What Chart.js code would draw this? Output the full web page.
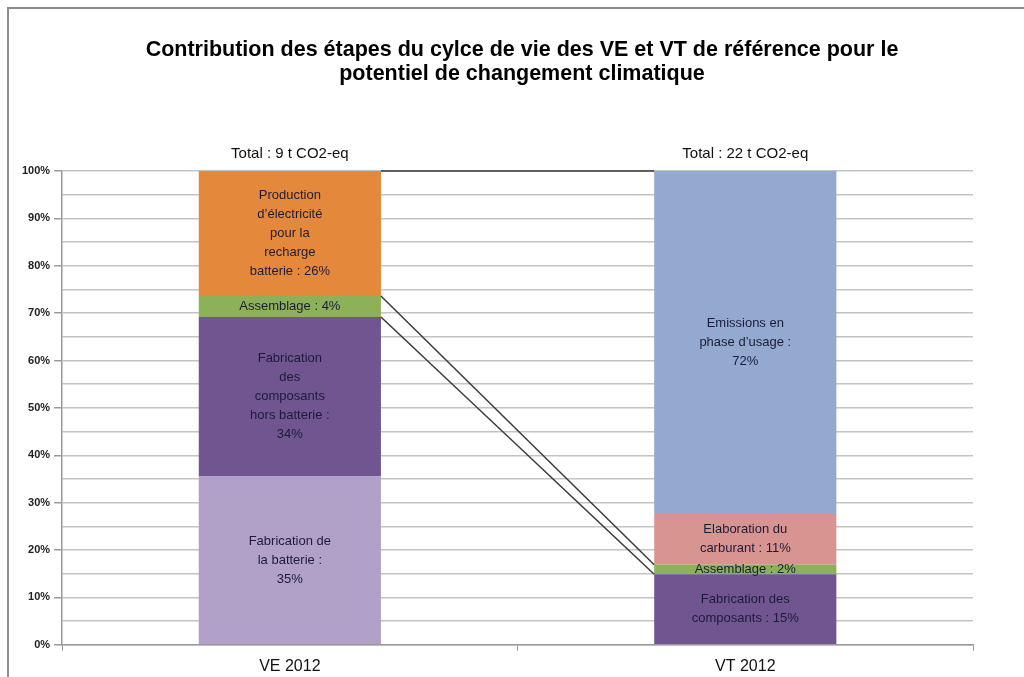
<!DOCTYPE html>
<html>
<head>
<meta charset="utf-8">
<script src="https://cdn.jsdelivr.net/npm/chart.js@4"></script>
<style>
  html, body { margin: 0; padding: 0; background: #fff; overflow: hidden; }
  .frame { position: absolute; left: 7px; top: 7px; width: 1040px; height: 700px; border: 2px solid #8c8c8c; }
  .wrap { position: absolute; left: 0; top: 0; width: 1024px; height: 684px; }
</style>
</head>
<body>
<div class="frame"></div>
<div class="wrap"><canvas id="chart" width="1024" height="684"></canvas></div>
<script>
// categories and totals
const categories = ['VE 2012', 'VT 2012'];
const totals = ['Total : 9 t CO2-eq', 'Total : 22 t CO2-eq'];
const titleLines = ['Contribution des étapes du cylce de vie des VE et VT de référence pour le', 'potentiel de changement climatique'];

// share of each step (%), VE then VT
const batterie = [35.5, 0];
const composants = [33.7, 14.9];
const assemblage = [4.4, 2.0];
const electricite = [26.4, 0];
const carburant = [0, 10.7];
const emissions = [0, 72.4];

// text written inside each segment
const batterieText = [['Fabrication de', 'la batterie :', '35%'], null];
const composantsText = [['Fabrication', 'des', 'composants', 'hors batterie :', '34%'], ['Fabrication des', 'composants : 15%']];
const assemblageText = [['Assemblage : 4%'], ['Assemblage : 2%']];
const electriciteText = [['Production', 'd’électricité', 'pour la', 'recharge', 'batterie : 26%'], null];
const carburantText = [null, ['Elaboration du', 'carburant : 11%']];
const emissionsText = [null, ['Emissions en', 'phase d’usage :', '72%']];

const FONT = '"Liberation Sans", sans-serif';

const makeSet = (label, data, color, text, line) => ({
  label, data, text, seriesLine: line,
  backgroundColor: color, borderWidth: 0,
  barPercentage: 0.4, categoryPercentage: 1
});

// title centred on the whole frame, like in the sheet
const frameTitle = {
  id: 'frameTitle',
  afterDraw(chart) {
    const ctx = chart.ctx;
    ctx.save();
    ctx.font = 'bold 21.5px ' + FONT;
    ctx.fillStyle = '#000';
    ctx.textAlign = 'center';
    ctx.textBaseline = 'middle';
    titleLines.forEach((t, k) => ctx.fillText(t, 522, 50 + k * 24));
    ctx.restore();
  }
};

// Excel-like series lines between the two bars
const seriesLines = {
  id: 'seriesLines',
  afterDatasetsDraw(chart) {
    const ctx = chart.ctx;
    ctx.save();
    ctx.strokeStyle = '#3a3a3a';
    ctx.lineWidth = 1.5;
    chart.data.datasets.forEach((ds, i) => {
      if (!ds.seriesLine) return;
      const els = chart.getDatasetMeta(i).data;
      const a = els[0], b = els[1];
      ctx.beginPath();
      ctx.moveTo(a.x + a.width / 2, a.y);
      ctx.lineTo(b.x - b.width / 2, b.y);
      ctx.stroke();
    });
    ctx.restore();
  }
};

// labels inside segments
const segmentText = {
  id: 'segmentText',
  afterDatasetsDraw(chart) {
    const ctx = chart.ctx;
    ctx.save();
    ctx.font = '13px ' + FONT;
    ctx.fillStyle = '#1c1c3a';
    ctx.textAlign = 'center';
    ctx.textBaseline = 'middle';
    chart.data.datasets.forEach((ds, i) => {
      chart.getDatasetMeta(i).data.forEach((el, j) => {
        const lines = ds.text[j];
        if (!lines) return;
        const cy = (el.y + el.base) / 2;
        const lh = 19;
        const y0 = cy - (lines.length - 1) * lh / 2;
        lines.forEach((t, k) => ctx.fillText(t, el.x, y0 + k * lh));
      });
    });
    ctx.restore();
  }
};

new Chart(document.getElementById('chart'), {
  type: 'bar',
  data: {
    labels: categories,
    datasets: [
      makeSet('Fabrication de la batterie', batterie, '#b1a1c8', batterieText, false),
      makeSet('Fabrication des composants', composants, '#705590', composantsText, true),
      makeSet('Assemblage', assemblage, '#8db158', assemblageText, true),
      makeSet('Production d’électricité', electricite, '#e4893b', electriciteText, false),
      makeSet('Elaboration du carburant', carburant, '#d89491', carburantText, false),
      makeSet('Emissions en phase d’usage', emissions, '#93a9cf', emissionsText, true)
    ]
  },
  options: {
    responsive: false,
    animation: false,
    layout: { padding: { left: 18, right: 51, top: 145, bottom: 2 } },
    plugins: {
      legend: { display: false },
      tooltip: { enabled: false },
      title: { display: false }
    },
    scales: {
      x: {
        stacked: true,
        grid: { drawOnChartArea: false, drawTicks: true, tickLength: 6, color: '#9a9a9a', offset: true },
        border: { color: '#9a9a9a', width: 1.5 },
        ticks: { color: '#111', font: { family: FONT, size: 16 }, padding: 6 }
      },
      x2: {
        position: 'top',
        labels: totals,
        offset: true,
        grid: { display: false },
        border: { display: false },
        ticks: { color: '#111', font: { family: FONT, size: 15 }, padding: 0 }
      },
      y: {
        stacked: true,
        min: 0,
        max: 100,
        ticks: {
          stepSize: 5,
          autoSkip: false,
          color: '#222',
          font: { family: FONT, size: 11, weight: 'bold' },
          padding: 4,
          callback: v => v % 10 === 0 ? v + '%' : ''
        },
        grid: {
          color: '#c4c4c4',
          lineWidth: 1.5,
          tickLength: 8,
          tickColor: ctx => ctx.tick && ctx.tick.value % 10 === 0 ? '#9a9a9a' : 'rgba(0,0,0,0)'
        },
        border: { color: '#9a9a9a', width: 1.5 }
      }
    }
  },
  plugins: [seriesLines, segmentText, frameTitle]
});
</script>
</body>
</html>
